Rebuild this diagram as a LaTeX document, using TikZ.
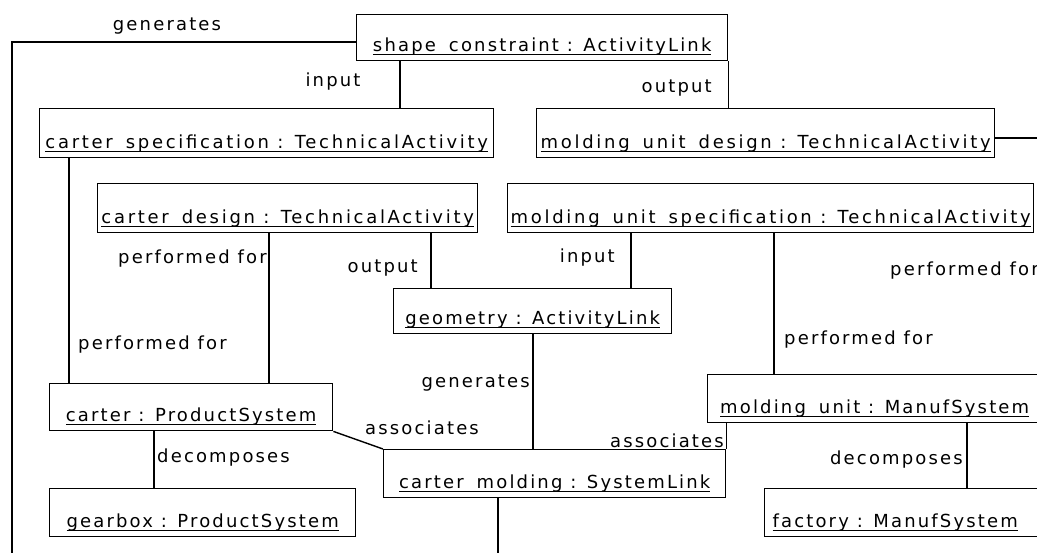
\documentclass[tikz,border=0pt]{standalone}
\usepackage{fontspec}
\setmainfont{DejaVu Sans}[LetterSpace=12]
\newcommand\ulbox[1]{\setbox0=\hbox{#1}\rlap{\rule[-3.5pt]{\wd0}{1.3pt}}\box0}
\newcommand\us{\hspace*{13pt}}
\tikzset{
  obj/.style={draw, line width=1.4pt, inner sep=0pt, text depth=9pt, anchor=north west,
    font=\fontsize{18}{20}\selectfont},
  wide/.style={font=\fontsize{18}{20}\selectfont\addfontfeature{LetterSpace=15}},
  lbl/.style={inner sep=0pt, font=\fontsize{18}{20}\selectfont},
  link/.style={line width=1.4pt}
}
\begin{document}
\begin{tikzpicture}[x=1pt,y=-1pt]
\useasboundingbox (0,0) rectangle (1037,552);
\fill[white] (0,0) rectangle (1037,552);
\clip (0,0) rectangle (1037,552);
% boxes
\node[obj, minimum width=371pt, minimum height=46pt, text height=37pt] (sc) at (356,14) {\ulbox{shape\us constraint : ActivityLink}};
\node[obj, wide, minimum width=454pt, minimum height=49pt, text height=40pt] (cspec) at (39,108) {\ulbox{carter\us specification : TechnicalActivity}};
\node[obj, wide, minimum width=458pt, minimum height=49pt, text height=40pt] (mud) at (536,108) {\ulbox{molding\us unit\us design : TechnicalActivity}};
\node[obj, wide, minimum width=380pt, minimum height=49pt, text height=40pt] (cdes) at (97,183) {\ulbox{carter\us design : TechnicalActivity}};
\node[obj, wide, minimum width=526pt, minimum height=49pt, text height=40pt] (mus) at (507,183) {\ulbox{molding\us unit\us specification : TechnicalActivity}};
\node[obj, minimum width=278pt, minimum height=45pt, text height=36pt] (geo) at (393,288) {\ulbox{geometry : ActivityLink}};
\node[obj, minimum width=283pt, minimum height=47pt, text height=38pt] (carter) at (49,383) {\ulbox{carter : ProductSystem}};
\node[obj, minimum width=306pt, minimum height=48pt, text height=39pt] (gearbox) at (49,488) {\ulbox{gearbox : ProductSystem}};
\node[obj, minimum width=342pt, minimum height=48pt, text height=39pt] (cm) at (383,449) {\ulbox{carter\us molding : SystemLink}};
\node[obj, minimum width=340pt, minimum height=48pt, text height=39pt] (mu) at (707,374) {\ulbox{molding\us unit : ManufSystem}\hspace*{6pt}};
\node[obj, minimum width=283pt, minimum height=48pt, text height=39pt] (factory) at (764,488) {\ulbox{factory : ManufSystem}\hspace*{22pt}};
% free ends
\coordinate (lbot) at (12,556);
\coordinate (mudend) at (1045,138);
\coordinate (cmend) at (498,556);
% connectors
\draw[link] (sc.west |- 0,42) -| (lbot);
\draw[link] (400,0 |- sc.south) -- (400,0 |- cspec.north);
\draw[link] (sc.south east) -- (sc.south east |- mud.north);
\draw[link] (mud.east |- mudend) -- (mudend);
\draw[link] (69,0 |- cspec.south) -- (69,0 |- carter.north);
\draw[link] (269,0 |- cdes.south) -- (269,0 |- carter.north);
\draw[link] (431,0 |- cdes.south) -- (431,0 |- geo.north);
\draw[link] (631,0 |- mus.south) -- (631,0 |- geo.north);
\draw[link] (774,0 |- mus.south) -- (774,0 |- mu.north);
\draw[link] (533,0 |- geo.south) -- (533,0 |- cm.north);
\draw[link] (carter.south east) -- (cm.north west);
\draw[link] (cm.north east |- mu.south) -- (cm.north east);
\draw[link] (154,0 |- carter.south) -- (154,0 |- gearbox.north);
\draw[link] (967,0 |- mu.south) -- (967,0 |- factory.north);
\draw[link] (498,0 |- cm.south) -- (cmend);
% labels
\node[lbl] (l1) at (167,26) {generates};
\node[lbl] (l2) at (333,82) {input};
\node[lbl, anchor=east] (l3) at (712,88) {output};
\node[lbl, anchor=east] (l4) at (267,259) {performed for};
\node[lbl, anchor=east] (l5) at (418,268) {output};
\node[lbl, anchor=east] (l6) at (615,258) {input};
\node[lbl, anchor=west] (l7) at (890,271) {performed for};
\node[lbl, anchor=west] (l8) at (784,340) {performed for};
\node[lbl, anchor=west] (l9) at (78,345) {performed for};
\node[lbl, anchor=east] (l10) at (530,383) {generates};
\node[lbl, anchor=west] (l11) at (365,428) {associates};
\node[lbl, anchor=east] (l12) at (724,441) {associates};
\node[lbl, anchor=west] (l13) at (157,458) {decomposes};
\node[lbl, anchor=east] (l14) at (963,460) {decomposes};
\end{tikzpicture}
\end{document}
